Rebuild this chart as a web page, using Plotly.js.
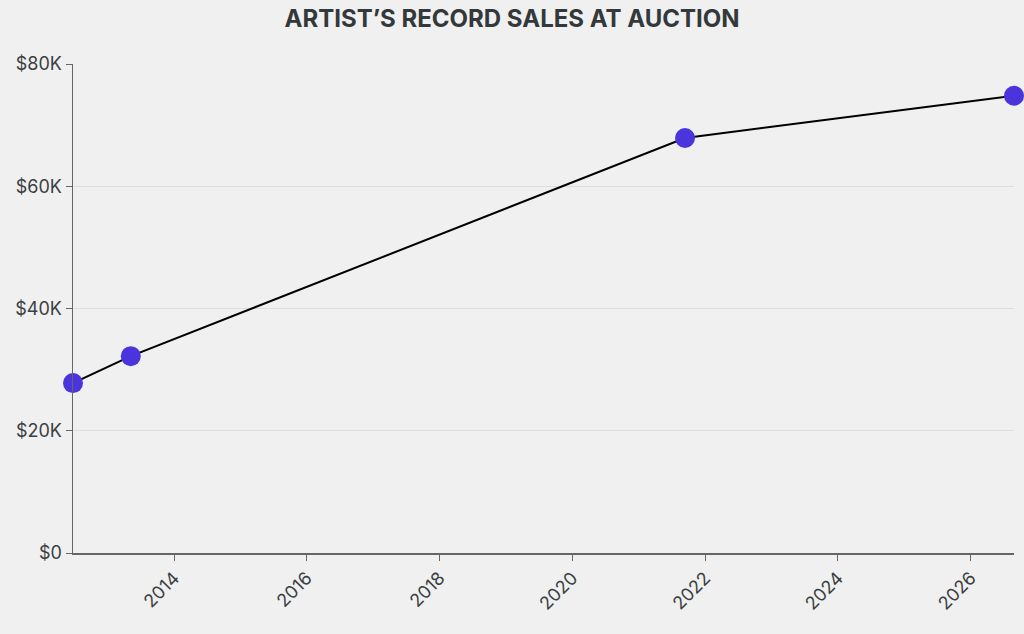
<!DOCTYPE html>
<html>
<head>
<meta charset="utf-8">
<script src="https://cdn.plot.ly/plotly-3.0.1.min.js"></script>
<style>
  html, body { margin: 0; padding: 0; background: #f0f0f0; }
  #chart { width: 1024px; height: 634px; }
</style>
</head>
<body>
<div id="chart"></div>
<script>
// sale dates and prices (USD)
const saleDates = ["2012-06-24", "2013-05-08", "2021-09-12", "2026-08-27"];
const salePrices = [27800, 32200, 67900, 74800];

const yTicks = [0, 20000, 40000, 60000, 80000];
const yTickText = ["$0", "$20K", "$40K", "$60K", "$80K"];

const txt = "#3a3f42";

const trace = {
    x: saleDates,
    y: salePrices,
    type: "scatter",
    mode: "lines+markers",
    line: { color: "#000000", width: 2 },
    marker: { color: "#4a35dd", size: 20 },
    cliponaxis: false,
    hoverinfo: "x+y"
};

const layout = {
    width: 1024, height: 634,
    paper_bgcolor: "#f0f0f0", plot_bgcolor: "#f0f0f0",
    font: { family: "Inter, 'Open Sans', sans-serif", color: txt, size: 18 },
    title: {
        text: "ARTIST’S RECORD SALES AT AUCTION",
        font: { family: "Inter, sans-serif", size: 24, color: "#33393b", weight: 700 },
        x: 0.5, xanchor: "center", y: 0.97, yanchor: "middle"
    },
    margin: { l: 73, r: 10, t: 64, b: 81 },
    showlegend: false,
    xaxis: {
        type: "date",
        range: [saleDates[0], saleDates[saleDates.length - 1]],
        dtick: "M24",
        tick0: "2014-01-01",
        tickformat: "%Y",
        tickangle: -45,
        ticks: "outside", ticklen: 6, tickcolor: "#666",
        showline: true, linecolor: "#666", linewidth: 1.5,
        showgrid: false, zeroline: false,
        tickfont: { size: 18, color: txt }
    },
    yaxis: {
        range: [0, 80000],
        tickvals: yTicks, ticktext: yTickText,
        ticks: "outside", ticklen: 6, tickcolor: "#666",
        showline: true, linecolor: "#666", linewidth: 1.5,
        showgrid: true, gridcolor: "#dedede", gridwidth: 1,
        zeroline: false,
        tickfont: { size: 18, color: txt }
    }
};

Plotly.newPlot("chart", [trace], layout, { displayModeBar: false, staticPlot: true });
</script>
</body>
</html>
